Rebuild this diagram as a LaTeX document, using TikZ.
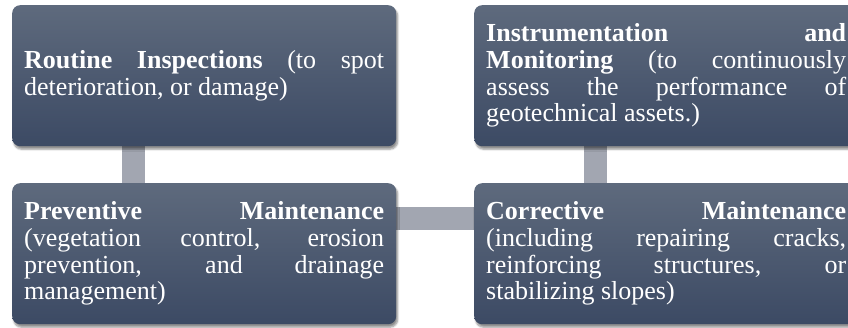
\documentclass[tikz,border=0pt]{standalone}
\usepackage{fontspec}
\setmainfont{Liberation Serif}
\usetikzlibrary{shadows.blur,backgrounds}
\definecolor{boxtop}{HTML}{5E6A7D}
\definecolor{boxbot}{HTML}{3C4A64}
\definecolor{barcol}{HTML}{A2A6B1}
\tikzset{
  stagebox/.style={rectangle, rounded corners=8pt, anchor=north west,
    top color=boxtop, bottom color=boxbot, draw=none,
    minimum width=384pt, minimum height=141pt, text width=360pt,
    inner xsep=12pt, inner ysep=4pt, align=justify, text=white,
    font=\fontsize{26}{26.7}\selectfont,
    blur shadow={shadow xshift=1.5pt, shadow yshift=-3pt, shadow opacity=45, shadow blur steps=6, shadow blur extra rounding=2pt}},
  linkbar/.style={draw=barcol, line width=23pt,
    blur shadow={shadow xshift=0pt, shadow yshift=-2pt, shadow opacity=35}}
}
\begin{document}
\begin{tikzpicture}[x=1pt,y=-1pt]
\useasboundingbox (0,0) rectangle (848,327);
\clip (0,0) rectangle (848,327);
\node[stagebox] (A) at (12,5) {\hyphenpenalty=10000 \textbf{Routine Inspections} (to spot\linebreak deterioration, or damage)};
\node[stagebox] (B) at (474,5) {\hyphenpenalty=10000 \textbf{Instrumentation and}\linebreak \textbf{Monitoring} (to continuously\linebreak assess the performance of\linebreak geotechnical assets.)};
\node[stagebox] (C) at (12,183) {\hyphenpenalty=10000 \textbf{Preventive Maintenance}\linebreak (vegetation control, erosion\linebreak prevention, and drainage\linebreak management)};
\node[stagebox] (D) at (474,183) {\hyphenpenalty=10000 \textbf{Corrective Maintenance}\linebreak (including repairing cracks,\linebreak reinforcing structures, or\linebreak stabilizing slopes)};
\begin{pgfonlayer}{background}
\draw[linkbar] ([xshift=121.5pt]A.south west) -- ([xshift=121.5pt]C.north west);
\draw[linkbar] ([xshift=121.5pt]B.south west) -- ([xshift=121.5pt]D.north west);
\draw[linkbar] ([yshift=-35.5pt]C.north east) -- ([yshift=-35.5pt]D.north west);
\end{pgfonlayer}
\end{tikzpicture}
\end{document}
